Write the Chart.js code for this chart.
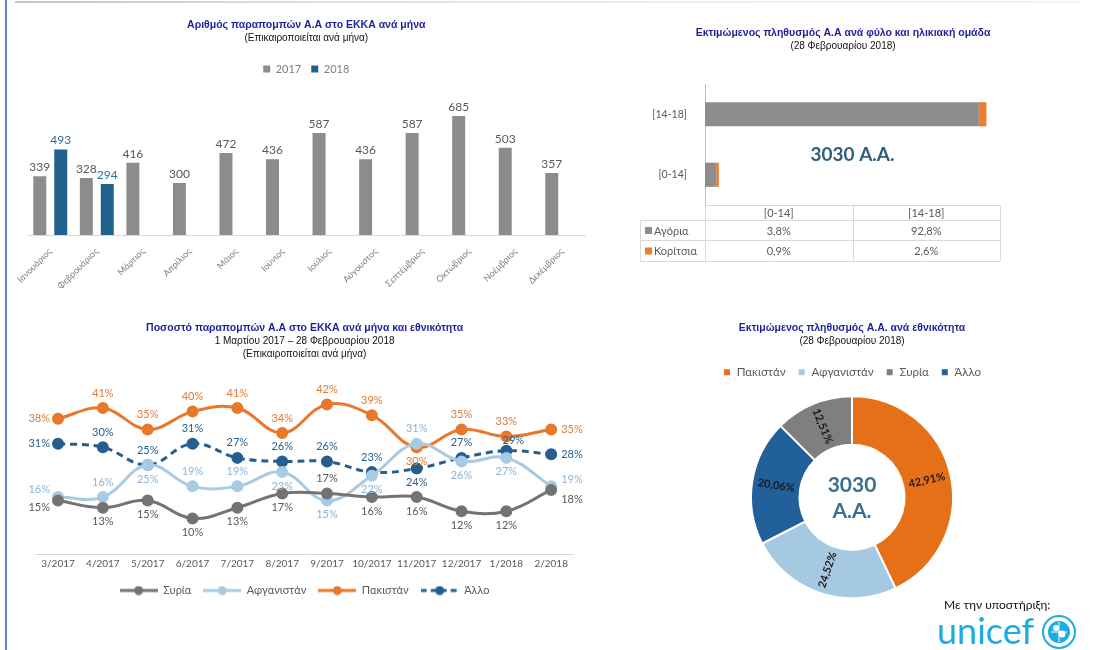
<!DOCTYPE html>
<html lang="el">
<head>
<meta charset="utf-8">
<title>Παραπομπές Α.Α</title>
<script src="https://cdn.jsdelivr.net/npm/chart.js@4.4.1/dist/chart.umd.min.js"></script>
<style>
  html, body { margin: 0; padding: 0; background: #fff; }
  body { width: 1093px; height: 650px; position: relative; overflow: hidden; }
  canvas { position: absolute; }
  #c1 { left: 10px; top: 10px; }
  #c2 { left: 620px; top: 10px; }
  #c3 { left: 10px; top: 310px; }
  #c4 { left: 690px; top: 310px; }
  #leftRule { position: absolute; left: 5px; top: 0; width: 2px; height: 650px; background: #5a87c8; }
  #topRule { position: absolute; left: 15px; top: 1px; width: 1065px; height: 2px;
             background: linear-gradient(to right, #c4c4c4, #dcdcdc 25%, #eeeeee 60%, #f2f2f2); }
  #support { position: absolute; left: 944px; top: 597px; font: 12px Lato, sans-serif; color: #111; }
  #unicef { position: absolute; left: 937px; top: 612px; font: 36px/36px Lato, sans-serif; color: #1cabe2; }
  #emblem { position: absolute; left: 1041px; top: 614px; }
</style>
</head>
<body>
<div id="leftRule"></div>
<div id="topRule"></div>
<canvas id="c1" width="590" height="290"></canvas>
<canvas id="c2" width="446" height="270"></canvas>
<canvas id="c3" width="590" height="300"></canvas>
<canvas id="c4" width="330" height="300"></canvas>
<div id="support">Με την υποστήριξη:</div>
<div id="unicef">unicef</div>
<svg id="emblem" width="36" height="36" viewBox="0 0 36 36">
  <circle cx="18" cy="18" r="16" fill="none" stroke="#1cabe2" stroke-width="2"/>
  <circle cx="18" cy="18" r="11" fill="#1cabe2"/>
  <path d="M10 18 h16 M18 8 v20" stroke="#fff" stroke-width="1"/>
  <circle cx="15" cy="14" r="3" fill="#fff"/>
  <circle cx="21" cy="20" r="3.5" fill="#fff"/>
</svg>
<script>
// bar chart: referrals per month
const months = ['Ιανουάριος', 'Φεβρουάριος', 'Μάρτιος', 'Απρίλιος', 'Μάιος', 'Ιούνιος',
                'Ιούλιος', 'Αύγουστος', 'Σεπτέμβριος', 'Οκτώβριος', 'Νοέμβριος', 'Δεκέμβριος'];
const refs2017 = [339, 328, 416, 300, 472, 436, 587, 436, 587, 685, 503, 357];
const refs2018 = [493, 294, null, null, null, null, null, null, null, null, null, null];

// population by sex and age group
const ageGroups = ['[0-14]', '[14-18]'];
const boys = [3.8, 92.8];
const girls = [0.9, 2.6];
const totalText = '3030 Α.Α.';

// share of referrals per month and nationality
const periods = ['3/2017', '4/2017', '5/2017', '6/2017', '7/2017', '8/2017',
                 '9/2017', '10/2017', '11/2017', '12/2017', '1/2018', '2/2018'];
const syria = [15, 13, 15, 10, 13, 17, 17, 16, 16, 12, 12, 18];
const afghanistan = [16, 16, 25, 19, 19, 23, 15, 22, 31, 26, 27, 19];
const pakistan = [38, 41, 35, 40, 41, 34, 42, 39, 30, 35, 33, 35];
const other = [31, 30, 25, 31, 27, 26, 26, 23, 24, 27, 29, 28];

// where each point label sits (l/r/t/b and corners)
const syriaPos = ['lb', 'b', 'b', 'b', 'b', 'b', 't', 'b', 'b', 'b', 'b', 'rb'];
const afghanPos = ['lt', 't', 'b', 't', 't', 'b', 'b', 'b', 't', 'b', 'b', 'rt'];
const pakistanPos = ['l', 't', 't', 't', 't', 't', 't', 't', 'b', 't', 't', 'r'];
const otherPos = ['l', 't', 't', 't', 't', 't', 't', 't', 'b', 't', 'tr', 'r'];

// population by nationality (clockwise from top)
const nationalities = ['Πακιστάν', 'Αφγανιστάν', 'Άλλο', 'Συρία'];
const popShares = [42.91, 24.52, 20.06, 12.51];
const legendOrder = ['Πακιστάν', 'Αφγανιστάν', 'Συρία', 'Άλλο'];

Chart.defaults.font.family = 'Lato';
Chart.defaults.color = '#595959';

const titleColor = '#1f1f99';

function heading(text, sub, top, subBottom) {
    return {
        title: {
            display: true, text: text, color: titleColor,
            font: { family: 'Liberation Sans', size: 10.5, weight: 'bold', lineHeight: 1.2 },
            padding: { top: top, bottom: 0 }
        },
        subtitle: {
            display: true, text: sub, color: '#111',
            font: { family: 'Liberation Sans', size: 10, lineHeight: 1.3 },
            padding: { top: 0, bottom: subBottom }
        }
    };
}

const pct1 = v => v.toFixed(1).replace('.', ',') + '%';
const pct2 = v => v.toFixed(2).replace('.', ',') + '%';

// value labels above the bars
const barLabels = {
    id: 'barLabels',
    afterDatasetsDraw(chart) {
        const ctx = chart.ctx;
        ctx.save();
        ctx.font = '12px Lato';
        ctx.textAlign = 'center';
        ctx.textBaseline = 'bottom';
        chart.data.datasets.forEach((ds, i) => {
            chart.getDatasetMeta(i).data.forEach((bar, j) => {
                if (ds.data[j] == null) return;
                ctx.fillStyle = ds.labelColor;
                ctx.fillText(ds.data[j], bar.x, bar.y - 3);
            });
        });
        ctx.restore();
    }
};

new Chart(document.getElementById('c1'), {
    type: 'bar',
    data: {
        labels: months,
        datasets: [
            { label: '2017', data: refs2017, backgroundColor: '#8c8c8c', labelColor: '#595959' },
            { label: '2018', data: refs2018, backgroundColor: '#21628f', labelColor: '#2a6d99' }
        ]
    },
    options: {
        responsive: false,
        animation: false,
        datasets: { bar: { categoryPercentage: 0.9, barPercentage: 0.62 } },
        layout: { padding: { left: 17, right: 14.5 } },
        plugins: Object.assign(heading('Αριθμός παραπομπών Α.Α στο ΕΚΚΑ ανά μήνα', '(Επικαιροποιείται ανά μήνα)', 9, 9), {
            legend: { labels: { boxWidth: 7, boxHeight: 7, color: '#7f7f7f', font: { size: 11 } } },
            tooltip: { enabled: false }
        }),
        scales: {
            x: {
                grid: { display: false },
                border: { color: '#d9d9d9' },
                ticks: { minRotation: 45, maxRotation: 45, color: '#7f7f7f', font: { size: 9 } },
                afterFit(scale) { scale.height = 65; }
            },
            y: { display: false, min: 0, max: 866 }
        }
    },
    plugins: [barLabels]
});

// total + data table under the horizontal bars
const popTable = {
    id: 'popTable',
    afterDraw(chart) {
        const ctx = chart.ctx;
        const a = chart.chartArea;
        const mid = (a.left + a.right) / 2;
        const rows = [a.bottom, a.bottom + 15, a.bottom + 35, a.bottom + 56];
        const labelLeft = a.left - 65;
        ctx.save();
        ctx.fillStyle = '#2f5f7c';
        ctx.font = 'bold 19px Lato';
        ctx.textAlign = 'center';
        ctx.textBaseline = 'middle';
        ctx.fillText(totalText, mid, a.top + 71);

        ctx.strokeStyle = '#d9d9d9';
        ctx.lineWidth = 1;
        ctx.beginPath();
        ctx.moveTo(a.left, rows[0] + 0.5); ctx.lineTo(a.right, rows[0] + 0.5);
        for (let r = 1; r < 4; r++) {
            ctx.moveTo(labelLeft, rows[r] + 0.5); ctx.lineTo(a.right, rows[r] + 0.5);
        }
        [a.left, mid, a.right].forEach(x => {
            ctx.moveTo(Math.round(x) + 0.5, rows[0]); ctx.lineTo(Math.round(x) + 0.5, rows[3]);
        });
        ctx.moveTo(labelLeft + 0.5, rows[1]); ctx.lineTo(labelLeft + 0.5, rows[3]);
        ctx.stroke();

        ctx.font = '11px Lato';
        ctx.fillStyle = '#595959';
        const centers = [(a.left + mid) / 2, (mid + a.right) / 2];
        ageGroups.forEach((g, k) => {
            ctx.fillText(g, centers[k], (rows[0] + rows[1]) / 2 + 1);
            ctx.fillText(pct1(boys[k]), centers[k], (rows[1] + rows[2]) / 2 + 1);
            ctx.fillText(pct1(girls[k]), centers[k], (rows[2] + rows[3]) / 2 + 1);
        });
        ctx.textAlign = 'left';
        chart.data.datasets.forEach((ds, i) => {
            const y = (rows[i + 1] + rows[i + 2]) / 2 + 1;
            ctx.fillStyle = ds.backgroundColor;
            ctx.fillRect(labelLeft + 5, y - 4, 7, 7);
            ctx.fillStyle = '#595959';
            ctx.fillText(ds.label, labelLeft + 14, y);
        });
        ctx.restore();
    }
};

new Chart(document.getElementById('c2'), {
    type: 'bar',
    data: {
        labels: ageGroups,
        datasets: [
            { label: 'Αγόρια', data: boys, backgroundColor: '#8c8c8c' },
            { label: 'Κορίτσια', data: girls, backgroundColor: '#ed7d31' }
        ]
    },
    options: {
        indexAxis: 'y',
        responsive: false,
        animation: false,
        datasets: { bar: { categoryPercentage: 1, barPercentage: 0.4 } },
        layout: { padding: { bottom: 75 } },
        plugins: Object.assign(heading('Εκτιμώμενος πληθυσμός Α.Α ανά φύλο και ηλικιακή ομάδα', '(28 Φεβρουαρίου 2018)', 17, 31.4), {
            legend: { display: false },
            tooltip: { enabled: false }
        }),
        scales: {
            x: { display: false, stacked: true, min: 0, max: 100 },
            y: {
                stacked: true,
                reverse: true,
                grid: { display: false },
                border: { color: '#bfbfbf' },
                ticks: { color: '#595959', font: { size: 10.5 }, padding: 10 },
                afterFit(scale) { scale.width = 85; }
            },
            // empty right-hand gutter so the titles stay centred on the whole panel
            gutter: {
                type: 'category', labels: ageGroups, position: 'right',
                grid: { display: false }, border: { display: false }, ticks: { display: false },
                afterFit(scale) { scale.width = 66; }
            }
        }
    },
    plugins: [popTable]
});

// point labels for the line chart
const labelShift = {
    t: [0, -15, 'center'], b: [0, 14, 'center'],
    l: [-8, 0, 'right'], r: [10, 0, 'left'],
    lt: [-8, -8, 'right'], lb: [-8, 7, 'right'],
    rt: [10, -7, 'left'], rb: [10, 10, 'left'],
    tr: [7, -10, 'center']
};
const lineLabels = {
    id: 'lineLabels',
    afterDatasetsDraw(chart) {
        const ctx = chart.ctx;
        ctx.save();
        ctx.font = '11px Lato';
        ctx.textBaseline = 'middle';
        chart.data.datasets.forEach((ds, i) => {
            chart.getDatasetMeta(i).data.forEach((pt, j) => {
                const s = labelShift[ds.labelPos[j]];
                ctx.fillStyle = ds.labelColor;
                ctx.textAlign = s[2];
                ctx.fillText(ds.data[j] + '%', pt.x + s[0], pt.y + s[1]);
            });
        });
        ctx.restore();
    }
};

function legendIcon(color, dashed) {
    const c = document.createElement('canvas');
    c.width = 38; c.height = 10;
    const g = c.getContext('2d');
    g.strokeStyle = color;
    g.lineWidth = 3;
    if (dashed) g.setLineDash([6, 4]);
    g.beginPath(); g.moveTo(0, 5); g.lineTo(38, 5); g.stroke();
    g.fillStyle = color;
    g.beginPath(); g.arc(19, 5, 4.5, 0, Math.PI * 2); g.fill();
    return c;
}

function lineSet(label, data, color, labelColor, pos, dashed) {
    return {
        label: label, data: data,
        borderColor: color, backgroundColor: color,
        pointBackgroundColor: color, pointBorderColor: color,
        borderWidth: 3, pointRadius: 4.5, tension: 0.4,
        borderDash: dashed ? [7, 5] : [],
        labelColor: labelColor, labelPos: pos,
        icon: legendIcon(color, dashed)
    };
}

new Chart(document.getElementById('c3'), {
    type: 'line',
    data: {
        labels: periods,
        datasets: [
            lineSet('Συρία', syria, '#737373', '#595959', syriaPos, false),
            lineSet('Αφγανιστάν', afghanistan, '#a8cae3', '#8db3d4', afghanPos, false),
            lineSet('Πακιστάν', pakistan, '#e8782a', '#e07b35', pakistanPos, false),
            lineSet('Άλλο', other, '#265f8f', '#265f8f', otherPos, true)
        ]
    },
    options: {
        responsive: false,
        animation: false,
        layout: { padding: { left: 25.6, right: 26.4, bottom: 4 } },
        plugins: Object.assign(heading('Ποσοστό παραπομπών Α.Α στο ΕΚΚΑ ανά μήνα και εθνικότητα',
                ['1 Μαρτίου 2017 – 28 Φεβρουαρίου 2018', '(Επικαιροποιείται ανά μήνα)'], 12, 15.4), {
            legend: {
                position: 'bottom',
                labels: {
                    usePointStyle: true, pointStyleWidth: 38, boxHeight: 10,
                    color: '#595959', font: { size: 11 }, padding: 12,
                    generateLabels(chart) {
                        const items = Chart.defaults.plugins.legend.labels.generateLabels(chart);
                        items.forEach(it => { it.pointStyle = chart.data.datasets[it.datasetIndex].icon; });
                        return items;
                    }
                }
            },
            tooltip: { enabled: false }
        }),
        scales: {
            x: {
                offset: true,
                grid: { display: false, drawTicks: false },
                border: { color: '#d9d9d9', dash: [2, 2] },
                ticks: { color: '#595959', font: { size: 10 }, maxRotation: 0, padding: 4 },
                afterFit(scale) { scale.height = 19; }
            },
            y: { display: false, min: 0, max: 50 }
        }
    },
    plugins: [lineLabels]
});

// slice labels + centre text for the doughnut
const ringLabels = {
    id: 'ringLabels',
    afterDatasetsDraw(chart) {
        const ctx = chart.ctx;
        const meta = chart.getDatasetMeta(0);
        ctx.save();
        ctx.font = 'bold 11px Lato';
        ctx.fillStyle = '#1a1a1a';
        ctx.textAlign = 'center';
        ctx.textBaseline = 'middle';
        meta.data.forEach((arc, i) => {
            const p = arc.getProps(['x', 'y', 'startAngle', 'endAngle', 'innerRadius', 'outerRadius']);
            const ang = (p.startAngle + p.endAngle) / 2;
            const r = (p.innerRadius + p.outerRadius) / 2;
            let rot = ang;
            while (rot > Math.PI) rot -= 2 * Math.PI;
            while (rot < -Math.PI) rot += 2 * Math.PI;
            if (rot > Math.PI / 2) rot -= Math.PI;
            if (rot < -Math.PI / 2) rot += Math.PI;
            ctx.save();
            ctx.translate(p.x + r * Math.cos(ang), p.y + r * Math.sin(ang));
            ctx.rotate(rot);
            ctx.fillText(pct2(popShares[i]), 0, 0);
            ctx.restore();
        });
        const c = meta.data[0];
        ctx.font = 'bold 21px Lato';
        ctx.fillStyle = '#3b6e8f';
        ctx.fillText('3030', c.x, c.y - 12);
        ctx.fillText('Α.Α.', c.x, c.y + 14);
        ctx.restore();
    }
};

new Chart(document.getElementById('c4'), {
    type: 'doughnut',
    data: {
        labels: nationalities,
        datasets: [{
            data: popShares,
            backgroundColor: ['#e67018', '#a6c9e2', '#21609a', '#7f7f7f'],
            borderColor: '#ffffff',
            borderWidth: 2,
            radius: 101,
            cutout: '52%'
        }]
    },
    options: {
        responsive: false,
        animation: false,
        layout: { padding: { right: 6, bottom: 3.6 } },
        plugins: Object.assign(heading('Εκτιμώμενος πληθυσμός Α.Α. ανά εθνικότητα', '(28 Φεβρουαρίου 2018)', 12, 7), {
            legend: {
                labels: {
                    boxWidth: 8, boxHeight: 8, padding: 12, color: '#595959', font: { size: 11.5 },
                    sort: (a, b) => legendOrder.indexOf(a.text) - legendOrder.indexOf(b.text)
                }
            },
            tooltip: { enabled: false }
        })
    },
    plugins: [ringLabels]
});
</script>
</body>
</html>
